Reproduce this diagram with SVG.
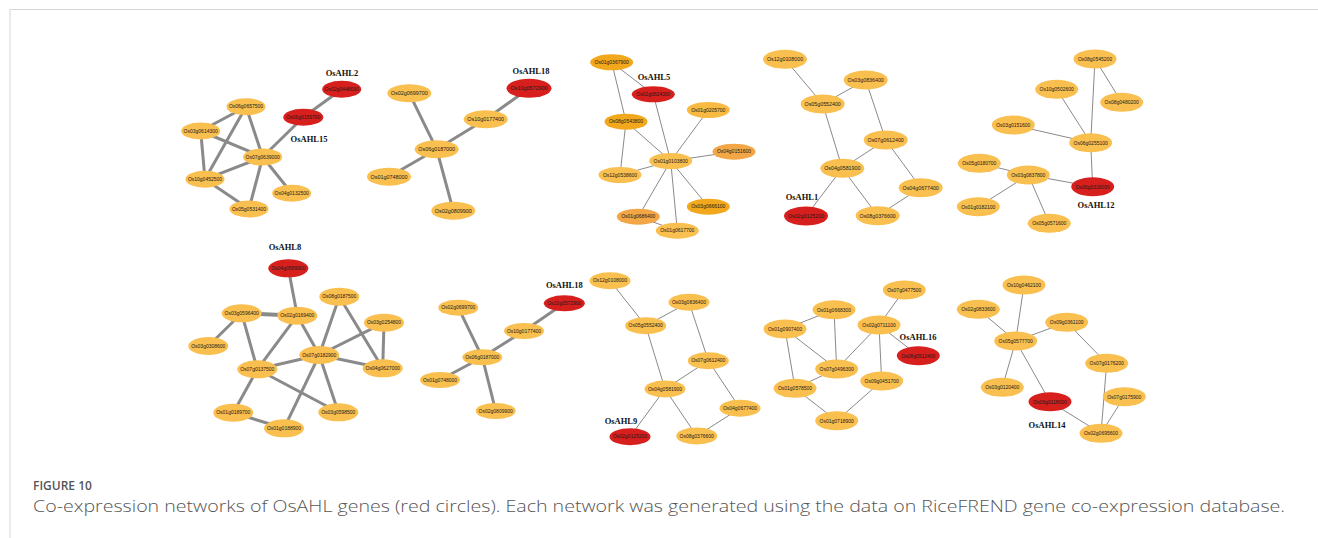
<svg xmlns="http://www.w3.org/2000/svg" width="1318" height="538" viewBox="0 0 1318 538">
<style>
.y{fill:#F9BF4F}
.r{fill:#D7201E}
.o{fill:#F2A81C}
.m{fill:#F2A646}
.l{fill:#F8BA42}
text.t{font-family:"Liberation Sans",Arial,sans-serif;font-size:5px;fill:#1a1a1a;text-anchor:middle}
text.lab{font-family:"Liberation Serif","Times New Roman",serif;font-size:8.5px;font-weight:bold;fill:#111;text-anchor:middle}
.thick line{stroke:#8a8a8a;stroke-width:3}
.thin line{stroke:#8a8a8a;stroke-width:1}
.cap1{font-family:"Open Sans","Noto Sans",sans-serif;font-size:12px;font-weight:600;fill:#555}
.cap2{font-family:"Open Sans","Noto Sans",sans-serif;font-size:16px;font-weight:300;fill:#555}
</style>
<rect width="1318" height="538" fill="#fff"/>
<path d="M10,538 V9.5 H1318" fill="none" stroke="#d6d6d6" stroke-width="1"/>

<g id="connectors">
<g class="thick">
<!-- N1 -->
<line x1="341.7" y1="89.3" x2="303.3" y2="117.3"/>
<line x1="303.3" y1="117.3" x2="262.7" y2="157"/>
<line x1="246" y1="106.7" x2="200.7" y2="131"/>
<line x1="246" y1="106.7" x2="262.7" y2="157"/>
<line x1="246" y1="106.7" x2="205" y2="179.3"/>
<line x1="200.7" y1="131" x2="262.7" y2="157"/>
<line x1="200.7" y1="131" x2="205" y2="179.3"/>
<line x1="262.7" y1="157" x2="205" y2="179.3"/>
<line x1="262.7" y1="157" x2="291.7" y2="193.3"/>
<line x1="262.7" y1="157" x2="249" y2="209"/>
<line x1="205" y1="179.3" x2="249" y2="209"/>
<!-- N2 -->
<line x1="529" y1="88.3" x2="485.7" y2="119.3"/>
<line x1="485.7" y1="119.3" x2="436.7" y2="149.3"/>
<line x1="409.3" y1="93.3" x2="436.7" y2="149.3"/>
<line x1="436.7" y1="149.3" x2="389" y2="176.7"/>
<line x1="436.7" y1="149.3" x2="453.3" y2="210.7"/>
<!-- N6 -->
<line x1="288.3" y1="268.3" x2="297.3" y2="315.7"/>
<line x1="241.7" y1="313.3" x2="297.3" y2="315.7" style="stroke-width:4"/>
<line x1="241.7" y1="313.3" x2="208.3" y2="346"/>
<line x1="241.7" y1="313.3" x2="257.3" y2="369.3"/>
<line x1="297.3" y1="315.7" x2="257.3" y2="369.3"/>
<line x1="297.3" y1="315.7" x2="319.3" y2="355"/>
<line x1="339.3" y1="296.7" x2="319.3" y2="355"/>
<line x1="339.3" y1="296.7" x2="382.7" y2="368.3"/>
<line x1="384" y1="322.7" x2="319.3" y2="355"/>
<line x1="384" y1="322.7" x2="382.7" y2="368.3"/>
<line x1="319.3" y1="355" x2="257.3" y2="369.3"/>
<line x1="319.3" y1="355" x2="382.7" y2="368.3"/>
<line x1="257.3" y1="369.3" x2="233.3" y2="412.7"/>
<line x1="257.3" y1="369.3" x2="338.3" y2="412.3"/>
<line x1="319.3" y1="355" x2="338.3" y2="412.3"/>
<line x1="319.3" y1="355" x2="284" y2="428.3"/>
<line x1="233.3" y1="412.7" x2="284" y2="428.3"/>
<!-- N7 -->
<line x1="564.3" y1="303.3" x2="524" y2="331"/>
<line x1="524" y1="331" x2="482.3" y2="357.3"/>
<line x1="458.3" y1="307.7" x2="482.3" y2="357.3"/>
<line x1="482.3" y1="357.3" x2="440" y2="380"/>
<line x1="482.3" y1="357.3" x2="495.7" y2="411"/>
</g>
<g class="thin">
<!-- N3 -->
<line x1="611.7" y1="62.3" x2="653.3" y2="94.3"/>
<line x1="611.7" y1="62.3" x2="626" y2="121.7"/>
<line x1="626" y1="121.7" x2="620" y2="175"/>
<line x1="626" y1="121.7" x2="670.7" y2="161"/>
<line x1="653.3" y1="94.3" x2="670.7" y2="161"/>
<line x1="708.3" y1="110" x2="670.7" y2="161"/>
<line x1="734" y1="151.7" x2="670.7" y2="161"/>
<line x1="620" y1="175" x2="670.7" y2="161"/>
<line x1="708.3" y1="206.7" x2="670.7" y2="161"/>
<line x1="638.3" y1="216.7" x2="670.7" y2="161"/>
<line x1="677.3" y1="230.7" x2="670.7" y2="161"/>
<line x1="638.3" y1="216.7" x2="677.3" y2="230.7"/>
<!-- N4 -->
<line x1="785" y1="59.3" x2="822.7" y2="104"/>
<line x1="822.7" y1="104" x2="865.7" y2="80"/>
<line x1="865.7" y1="80" x2="885.7" y2="140"/>
<line x1="822.7" y1="104" x2="842.3" y2="168.3"/>
<line x1="885.7" y1="140" x2="842.3" y2="168.3"/>
<line x1="885.7" y1="140" x2="920.7" y2="187.7"/>
<line x1="842.3" y1="168.3" x2="806" y2="216"/>
<line x1="842.3" y1="168.3" x2="877.7" y2="215.7"/>
<line x1="920.7" y1="187.7" x2="877.7" y2="215.7"/>
<!-- N5 -->
<line x1="1095" y1="59" x2="1121.7" y2="102.3"/>
<line x1="1095" y1="59" x2="1090.7" y2="142.7"/>
<line x1="1056.7" y1="89.3" x2="1090.7" y2="142.7"/>
<line x1="1013.3" y1="125" x2="1090.7" y2="142.7"/>
<line x1="1090.7" y1="142.7" x2="1092.7" y2="186.7"/>
<line x1="979.3" y1="163.3" x2="1028.3" y2="175"/>
<line x1="1028.3" y1="175" x2="1092.7" y2="186.7"/>
<line x1="1028.3" y1="175" x2="978.3" y2="206.7"/>
<line x1="1028.3" y1="175" x2="1049.3" y2="223.3"/>
<!-- N8 -->
<line x1="610" y1="280.7" x2="645.7" y2="325.7"/>
<line x1="645.7" y1="325.7" x2="689" y2="302.3"/>
<line x1="689" y1="302.3" x2="708.3" y2="360.7"/>
<line x1="645.7" y1="325.7" x2="665" y2="389"/>
<line x1="708.3" y1="360.7" x2="665" y2="389"/>
<line x1="708.3" y1="360.7" x2="740" y2="408.3"/>
<line x1="665" y1="389" x2="630" y2="436.7"/>
<line x1="665" y1="389" x2="696.7" y2="436"/>
<line x1="740" y1="408.3" x2="696.7" y2="436"/>
<!-- N9 -->
<line x1="904.3" y1="290" x2="879" y2="325"/>
<line x1="834" y1="309.7" x2="785" y2="329"/>
<line x1="834" y1="309.7" x2="836.7" y2="369"/>
<line x1="785" y1="329" x2="836.7" y2="369"/>
<line x1="785" y1="329" x2="795" y2="388.3"/>
<line x1="879" y1="325" x2="836.7" y2="369"/>
<line x1="879" y1="325" x2="881.7" y2="381"/>
<line x1="879" y1="325" x2="918.3" y2="355.7"/>
<line x1="836.7" y1="369" x2="795" y2="388.3"/>
<line x1="795" y1="388.3" x2="836.7" y2="420.7"/>
<line x1="881.7" y1="381" x2="836.7" y2="420.7"/>
<!-- N10 -->
<line x1="1024" y1="285" x2="1015.7" y2="341"/>
<line x1="978.3" y1="309.3" x2="1015.7" y2="341"/>
<line x1="1066.7" y1="322.3" x2="1015.7" y2="341"/>
<line x1="1002.3" y1="387.3" x2="1015.7" y2="341"/>
<line x1="1015.7" y1="341" x2="1050" y2="401.7"/>
<line x1="1050" y1="401.7" x2="1101" y2="433.3"/>
<line x1="1066.7" y1="322.3" x2="1106.7" y2="363.3"/>
<line x1="1106.7" y1="363.3" x2="1101" y2="433.3"/>
<line x1="1124.3" y1="396.7" x2="1101" y2="433.3"/>
</g>
</g>

<!-- Network 1 -->
<g id="net1">
<text class="lab" x="342" y="76">OsAHL2</text>
<text class="lab" x="309" y="141.5">OsAHL15</text>
<g id="n1-Os02g0448000"><ellipse class="r" cx="341.7" cy="89.3" rx="19.5" ry="8.5"/><text class="t" x="341.7" y="91">Os02g0448000</text></g>
<g id="n1-Os06g0159700"><ellipse class="r" cx="303.3" cy="117.3" rx="20" ry="8.5"/><text class="t" x="303.3" y="119">Os06g0159700</text></g>
<g id="n1-Os06g0657500"><ellipse class="y" cx="246" cy="106.7" rx="19.5" ry="8.5"/><text class="t" x="246" y="108.4">Os06g0657500</text></g>
<g id="n1-Os03g0614300"><ellipse class="y" cx="200.7" cy="131" rx="19.5" ry="8.5"/><text class="t" x="200.7" y="132.7">Os03g0614300</text></g>
<g id="n1-Os07g0639000"><ellipse class="y" cx="262.7" cy="157" rx="19.5" ry="8.5"/><text class="t" x="262.7" y="158.7">Os07g0639000</text></g>
<g id="n1-Os10g0452500"><ellipse class="y" cx="205" cy="179.3" rx="19.5" ry="8.5"/><text class="t" x="205" y="181">Os10g0452500</text></g>
<g id="n1-Os04g0132500"><ellipse class="y" cx="291.7" cy="193.3" rx="19.5" ry="8.5"/><text class="t" x="291.7" y="195">Os04g0132500</text></g>
<g id="n1-Os05g0531400"><ellipse class="y" cx="249" cy="209" rx="19.5" ry="8.5"/><text class="t" x="249" y="210.7">Os05g0531400</text></g>
</g>

<!-- Network 2 -->
<g id="net2">
<text class="lab" x="531" y="73.5">OsAHL18</text>
<g id="n2-Os10g0572900"><ellipse class="r" cx="529" cy="88.3" rx="22.5" ry="9.5"/><text class="t" style="font-size:5.4px" x="529" y="90.2">Os10g0572900</text></g>
<g id="n2-Os02g0699700"><ellipse class="y" cx="409.3" cy="93.3" rx="22" ry="9"/><text class="t" style="font-size:5.4px" x="409.3" y="95.2">Os02g0699700</text></g>
<g id="n2-Os10g0177400"><ellipse class="y" cx="485.7" cy="119.3" rx="22" ry="9"/><text class="t" style="font-size:5.4px" x="485.7" y="121.2">Os10g0177400</text></g>
<g id="n2-Os06g0187000"><ellipse class="y" cx="436.7" cy="149.3" rx="22" ry="9"/><text class="t" style="font-size:5.4px" x="436.7" y="151.2">Os06g0187000</text></g>
<g id="n2-Os01g0748000"><ellipse class="y" cx="389" cy="176.7" rx="22" ry="9"/><text class="t" style="font-size:5.4px" x="389" y="178.6">Os01g0748000</text></g>
<g id="n2-Os02g0809900"><ellipse class="y" cx="453.3" cy="210.7" rx="22" ry="9"/><text class="t" style="font-size:5.4px" x="453.3" y="212.6">Os02g0809900</text></g>
</g>

<!-- Network 3 -->
<g id="net3">
<text class="lab" x="654" y="80">OsAHL5</text>
<g id="n3-Os01g0367900"><ellipse class="o" cx="611.7" cy="62.3" rx="21.5" ry="8"/><text class="t" x="611.7" y="64">Os01g0367900</text></g>
<g id="n3-Os02g0824300"><ellipse class="r" cx="653.3" cy="94.3" rx="21.5" ry="8"/><text class="t" x="653.3" y="96">Os02g0824300</text></g>
<g id="n3-Os01g0205700"><ellipse class="l" cx="708.3" cy="110" rx="21.5" ry="8"/><text class="t" x="708.3" y="111.7">Os01g0205700</text></g>
<g id="n3-Os08g0543800"><ellipse class="o" cx="626" cy="121.7" rx="21.5" ry="8"/><text class="t" x="626" y="123.4">Os08g0543800</text></g>
<g id="n3-Os04g0151600"><ellipse class="m" cx="734" cy="151.7" rx="21.5" ry="8"/><text class="t" x="734" y="153.4">Os04g0151600</text></g>
<g id="n3-Os01g0103800"><ellipse class="y" cx="670.7" cy="161" rx="21.5" ry="8"/><text class="t" x="670.7" y="162.7">Os01g0103800</text></g>
<g id="n3-Os12g0538600"><ellipse class="y" cx="620" cy="175" rx="21.5" ry="8"/><text class="t" x="620" y="176.7">Os12g0538600</text></g>
<g id="n3-Os03g0666100"><ellipse class="o" cx="708.3" cy="206.7" rx="21.5" ry="8"/><text class="t" x="708.3" y="208.4">Os03g0666100</text></g>
<g id="n3-Os01g0686400"><ellipse class="m" cx="638.3" cy="216.7" rx="21.5" ry="8"/><text class="t" x="638.3" y="218.4">Os01g0686400</text></g>
<g id="n3-Os01g0617700"><ellipse class="y" cx="677.3" cy="230.7" rx="21.5" ry="8"/><text class="t" x="677.3" y="232.4">Os01g0617700</text></g>
</g>

<!-- Network 4 -->
<g id="net4">
<text class="lab" x="802" y="200">OsAHL1</text>
<g id="n4-Os12g0108000"><ellipse class="y" cx="785" cy="59.3" rx="22" ry="9.5"/><text class="t" style="font-size:5.3px" x="785" y="61.2">Os12g0108000</text></g>
<g id="n4-Os03g0836400"><ellipse class="y" cx="865.7" cy="80" rx="22" ry="9.5"/><text class="t" style="font-size:5.3px" x="865.7" y="81.9">Os03g0836400</text></g>
<g id="n4-Os05g0552400"><ellipse class="y" cx="822.7" cy="104" rx="22" ry="9.5"/><text class="t" style="font-size:5.3px" x="822.7" y="105.9">Os05g0552400</text></g>
<g id="n4-Os07g0612400"><ellipse class="y" cx="885.7" cy="140" rx="22" ry="9.5"/><text class="t" style="font-size:5.3px" x="885.7" y="141.9">Os07g0612400</text></g>
<g id="n4-Os04g0581900"><ellipse class="y" cx="842.3" cy="168.3" rx="22" ry="9.5"/><text class="t" style="font-size:5.3px" x="842.3" y="170.2">Os04g0581900</text></g>
<g id="n4-Os04g0677400"><ellipse class="y" cx="920.7" cy="187.7" rx="22" ry="9.5"/><text class="t" style="font-size:5.3px" x="920.7" y="189.6">Os04g0677400</text></g>
<g id="n4-Os02g0125200"><ellipse class="r" cx="806" cy="216" rx="22" ry="9.5"/><text class="t" style="font-size:5.3px" x="806" y="217.9">Os02g0125200</text></g>
<g id="n4-Os08g0376600"><ellipse class="y" cx="877.7" cy="215.7" rx="22" ry="9.5"/><text class="t" style="font-size:5.3px" x="877.7" y="217.6">Os08g0376600</text></g>
</g>

<!-- Network 5 -->
<g id="net5">
<text class="lab" x="1096" y="208">OsAHL12</text>
<g id="n5-Os08g0545200"><ellipse class="y" cx="1095" cy="59" rx="21.5" ry="9.5"/><text class="t" x="1095" y="60.8">Os08g0545200</text></g>
<g id="n5-Os10g0502600"><ellipse class="y" cx="1056.7" cy="89.3" rx="21.5" ry="9.5"/><text class="t" x="1056.7" y="91.1">Os10g0502600</text></g>
<g id="n5-Os08g0480200"><ellipse class="y" cx="1121.7" cy="102.3" rx="21.5" ry="9.5"/><text class="t" x="1121.7" y="104.1">Os08g0480200</text></g>
<g id="n5-Os03g0151600"><ellipse class="y" cx="1013.3" cy="125" rx="21.5" ry="9.5"/><text class="t" x="1013.3" y="126.8">Os03g0151600</text></g>
<g id="n5-Os06g0255100"><ellipse class="y" cx="1090.7" cy="142.7" rx="21.5" ry="9.5"/><text class="t" x="1090.7" y="144.5">Os06g0255100</text></g>
<g id="n5-Os05g0180700"><ellipse class="y" cx="979.3" cy="163.3" rx="21.5" ry="9.5"/><text class="t" x="979.3" y="165.1">Os05g0180700</text></g>
<g id="n5-Os03g0837800"><ellipse class="y" cx="1028.3" cy="175" rx="21.5" ry="9.5"/><text class="t" x="1028.3" y="176.8">Os03g0837800</text></g>
<g id="n5-Os06g0326000"><ellipse class="r" cx="1092.7" cy="186.7" rx="21.5" ry="9.5"/><text class="t" x="1092.7" y="188.5">Os06g0326000</text></g>
<g id="n5-Os01g0182100"><ellipse class="y" cx="978.3" cy="206.7" rx="21.5" ry="9.5"/><text class="t" x="978.3" y="208.5">Os01g0182100</text></g>
<g id="n5-Os05g0571600"><ellipse class="y" cx="1049.3" cy="223.3" rx="21.5" ry="9.5"/><text class="t" x="1049.3" y="225.1">Os05g0571600</text></g>
</g>

<!-- Network 6 -->
<g id="net6">
<text class="lab" x="285" y="250">OsAHL8</text>
<g id="n6-Os04g0589900"><ellipse class="r" cx="288.3" cy="268.3" rx="20" ry="9"/><text class="t" x="288.3" y="270">Os04g0589900</text></g>
<g id="n6-Os08g0187500"><ellipse class="y" cx="339.3" cy="296.7" rx="20" ry="9"/><text class="t" x="339.3" y="298.4">Os08g0187500</text></g>
<g id="n6-Os03g0596400"><ellipse class="y" cx="241.7" cy="313.3" rx="20" ry="9"/><text class="t" x="241.7" y="315">Os03g0596400</text></g>
<g id="n6-Os02g0169400"><ellipse class="y" cx="297.3" cy="315.7" rx="20" ry="9"/><text class="t" x="297.3" y="317.4">Os02g0169400</text></g>
<g id="n6-Os03g0254800"><ellipse class="y" cx="384" cy="322.7" rx="20" ry="9"/><text class="t" x="384" y="324.4">Os03g0254800</text></g>
<g id="n6-Os03g0308600"><ellipse class="y" cx="208.3" cy="346" rx="20" ry="9"/><text class="t" x="208.3" y="347.7">Os03g0308600</text></g>
<g id="n6-Os07g0182900"><ellipse class="y" cx="319.3" cy="355" rx="20" ry="9"/><text class="t" x="319.3" y="356.7">Os07g0182900</text></g>
<g id="n6-Os07g0137500"><ellipse class="y" cx="257.3" cy="369.3" rx="20" ry="9"/><text class="t" x="257.3" y="371">Os07g0137500</text></g>
<g id="n6-Os04g0627000"><ellipse class="y" cx="382.7" cy="368.3" rx="20" ry="9"/><text class="t" x="382.7" y="370">Os04g0627000</text></g>
<g id="n6-Os01g0189700"><ellipse class="y" cx="233.3" cy="412.7" rx="20" ry="9"/><text class="t" x="233.3" y="414.4">Os01g0189700</text></g>
<g id="n6-Os03g0598500"><ellipse class="y" cx="338.3" cy="412.3" rx="20" ry="9"/><text class="t" x="338.3" y="414">Os03g0598500</text></g>
<g id="n6-Os01g0188900"><ellipse class="y" cx="284" cy="428.3" rx="20" ry="9"/><text class="t" x="284" y="430">Os01g0188900</text></g>
</g>

<!-- Network 7 -->
<g id="net7">
<text class="lab" x="564.3" y="288">OsAHL18</text>
<g id="n7-Os10g0572900"><ellipse class="r" cx="564.3" cy="303.3" rx="20.5" ry="8"/><text class="t" x="564.3" y="305">Os10g0572900</text></g>
<g id="n7-Os02g0699700"><ellipse class="y" cx="458.3" cy="307.7" rx="20" ry="8"/><text class="t" x="458.3" y="309.4">Os02g0699700</text></g>
<g id="n7-Os10g0177400"><ellipse class="y" cx="524" cy="331" rx="20" ry="8"/><text class="t" x="524" y="332.7">Os10g0177400</text></g>
<g id="n7-Os06g0187000"><ellipse class="y" cx="482.3" cy="357.3" rx="20" ry="8"/><text class="t" x="482.3" y="359">Os06g0187000</text></g>
<g id="n7-Os01g0748000"><ellipse class="y" cx="440" cy="380" rx="20" ry="8"/><text class="t" x="440" y="381.7">Os01g0748000</text></g>
<g id="n7-Os02g0809900"><ellipse class="y" cx="495.7" cy="411" rx="20" ry="8"/><text class="t" x="495.7" y="412.7">Os02g0809900</text></g>
</g>

<!-- Network 8 -->
<g id="net8">
<text class="lab" x="621" y="424">OsAHL9</text>
<g id="n8-Os12g0108000"><ellipse class="y" cx="610" cy="280.7" rx="20.5" ry="8.5"/><text class="t" x="610" y="282.4">Os12g0108000</text></g>
<g id="n8-Os03g0836400"><ellipse class="y" cx="689" cy="302.3" rx="20.5" ry="8.5"/><text class="t" x="689" y="304">Os03g0836400</text></g>
<g id="n8-Os05g0552400"><ellipse class="y" cx="645.7" cy="325.7" rx="20.5" ry="8.5"/><text class="t" x="645.7" y="327.4">Os05g0552400</text></g>
<g id="n8-Os07g0612400"><ellipse class="y" cx="708.3" cy="360.7" rx="20.5" ry="8.5"/><text class="t" x="708.3" y="362.4">Os07g0612400</text></g>
<g id="n8-Os04g0581900"><ellipse class="y" cx="665" cy="389" rx="20.5" ry="8.5"/><text class="t" x="665" y="390.7">Os04g0581900</text></g>
<g id="n8-Os04g0677400"><ellipse class="y" cx="740" cy="408.3" rx="20.5" ry="8.5"/><text class="t" x="740" y="410">Os04g0677400</text></g>
<g id="n8-Os02g0125200"><ellipse class="r" cx="630" cy="436.7" rx="20.5" ry="8.5"/><text class="t" x="630" y="438.4">Os02g0125200</text></g>
<g id="n8-Os08g0376600"><ellipse class="y" cx="696.7" cy="436" rx="20.5" ry="8.5"/><text class="t" x="696.7" y="437.7">Os08g0376600</text></g>
</g>

<!-- Network 9 -->
<g id="net9">
<text class="lab" x="918" y="339.5">OsAHL16</text>
<g id="n9-Os07g0477500"><ellipse class="y" cx="904.3" cy="290" rx="21.5" ry="9.5"/><text class="t" x="904.3" y="291.8">Os07g0477500</text></g>
<g id="n9-Os01g0668300"><ellipse class="y" cx="834" cy="309.7" rx="21.5" ry="9.5"/><text class="t" x="834" y="311.5">Os01g0668300</text></g>
<g id="n9-Os01g0907400"><ellipse class="y" cx="785" cy="329" rx="21.5" ry="9.5"/><text class="t" x="785" y="330.8">Os01g0907400</text></g>
<g id="n9-Os02g0711100"><ellipse class="y" cx="879" cy="325" rx="21.5" ry="9.5"/><text class="t" x="879" y="326.8">Os02g0711100</text></g>
<g id="n9-Os08g0512400"><ellipse class="r" cx="918.3" cy="355.7" rx="21.5" ry="9.5"/><text class="t" x="918.3" y="357.5">Os08g0512400</text></g>
<g id="n9-Os07g0496300"><ellipse class="y" cx="836.7" cy="369" rx="21.5" ry="9.5"/><text class="t" x="836.7" y="370.8">Os07g0496300</text></g>
<g id="n9-Os09g0451700"><ellipse class="y" cx="881.7" cy="381" rx="21.5" ry="9.5"/><text class="t" x="881.7" y="382.8">Os09g0451700</text></g>
<g id="n9-Os01g0578500"><ellipse class="y" cx="795" cy="388.3" rx="21.5" ry="9.5"/><text class="t" x="795" y="390.1">Os01g0578500</text></g>
<g id="n9-Os01g0718900"><ellipse class="y" cx="836.7" cy="420.7" rx="21.5" ry="9.5"/><text class="t" x="836.7" y="422.5">Os01g0718900</text></g>
</g>

<!-- Network 10 -->
<g id="net10">
<text class="lab" x="1047" y="428">OsAHL14</text>
<g id="n10-Os10g0462100"><ellipse class="y" cx="1024" cy="285" rx="21.5" ry="9.5"/><text class="t" x="1024" y="286.8">Os10g0462100</text></g>
<g id="n10-Os02g0833600"><ellipse class="y" cx="978.3" cy="309.3" rx="21.5" ry="9.5"/><text class="t" x="978.3" y="311.1">Os02g0833600</text></g>
<g id="n10-Os09g0361100"><ellipse class="y" cx="1066.7" cy="322.3" rx="21.5" ry="9.5"/><text class="t" x="1066.7" y="324.1">Os09g0361100</text></g>
<g id="n10-Os05g0577700"><ellipse class="y" cx="1015.7" cy="341" rx="21.5" ry="9.5"/><text class="t" x="1015.7" y="342.8">Os05g0577700</text></g>
<g id="n10-Os07g0176200"><ellipse class="y" cx="1106.7" cy="363.3" rx="21.5" ry="9.5"/><text class="t" x="1106.7" y="365.1">Os07g0176200</text></g>
<g id="n10-Os03g0120400"><ellipse class="y" cx="1002.3" cy="387.3" rx="21.5" ry="9.5"/><text class="t" x="1002.3" y="389.1">Os03g0120400</text></g>
<g id="n10-Os07g0175900"><ellipse class="y" cx="1124.3" cy="396.7" rx="21.5" ry="9.5"/><text class="t" x="1124.3" y="398.5">Os07g0175900</text></g>
<g id="n10-Os03g0118000"><ellipse class="r" cx="1050" cy="401.7" rx="21.5" ry="9.5"/><text class="t" x="1050" y="403.5">Os03g0118000</text></g>
<g id="n10-Os02g0695600"><ellipse class="y" cx="1101" cy="433.3" rx="21.5" ry="9.5"/><text class="t" x="1101" y="435.1">Os02g0695600</text></g>
</g>

<text class="cap1" x="33" y="490">FIGURE 10</text>
<text class="cap2" x="33" y="512" textLength="1252" lengthAdjust="spacingAndGlyphs">Co-expression networks of OsAHL genes (red circles). Each network was generated using the data on RiceFREND gene co-expression database.</text>
</svg>
